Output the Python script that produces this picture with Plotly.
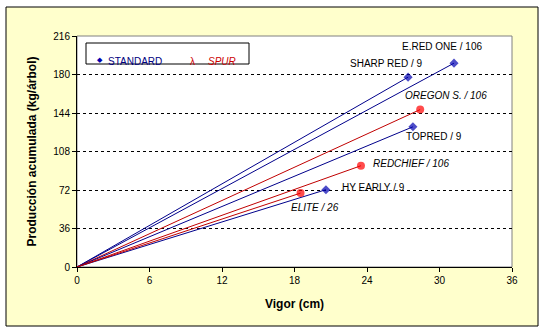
import plotly.graph_objects as go

# ---- data ----
varieties = ["E.RED ONE / 106", "SHARP RED / 9", "OREGON S. / 106", "TOPRED / 9",
             "REDCHIEF / 106", "HY EARLY / 9", "ELITE / 26"]
groups = ["STANDARD", "STANDARD", "SPUR", "STANDARD", "SPUR", "STANDARD", "SPUR"]
vigor = [31.2, 27.4, 28.4, 27.8, 23.5, 20.6, 18.5]
produccion = [190.6, 177.5, 147.2, 131.1, 94.7, 72.3, 69.1]
x_ticks = [0, 6, 12, 18, 24, 30, 36]
y_ticks = [0, 36, 72, 108, 144, 180, 216]

# ---- styles / label offsets (pixels) ----
label_shift = [(-12, 17), (-22, 14), (26, 14), (21, -10), (50, 2), (48, 2), (14, -14)]
style = {
    "STANDARD": dict(line="#00008B", marker="#0000B0", symbol="diamond", size=7, italic=False),
    "SPUR": dict(line="#C00000", marker="#FF0000", symbol="circle", size=8, italic=True),
}

W, H = 546, 334
ML, MR, MT, MB = 77, 34, 36, 67
PW, PH = W - ML - MR, H - MT - MB


def px(xp):
    return (xp - ML) / PW


def py(yp):
    return (H - MB - yp) / PH


FONT = "Arial, Liberation Sans, sans-serif"

fig = go.Figure()
for name, g, xv, yv in zip(varieties, groups, vigor, produccion):
    st = style[g]
    fig.add_trace(go.Scatter(
        x=[0, xv], y=[0, yv], mode="lines+markers", name=name, showlegend=False,
        line=dict(color=st["line"], width=1),
        marker=dict(color=st["marker"], symbol=st["symbol"], size=[0, st["size"]],
                    line=dict(width=0)),
        hoverinfo="skip",
    ))

annotations = []
for name, g, xv, yv, (dx, dy) in zip(varieties, groups, vigor, produccion, label_shift):
    txt = f"<i>{name}</i>" if style[g]["italic"] else name
    annotations.append(dict(x=xv, y=yv, xref="x", yref="y", text=txt, showarrow=False,
                            xshift=dx, yshift=dy, font=dict(family=FONT, size=10, color="black")))

# legend (custom)
annotations += [
    dict(x=px(95), y=py(54), xref="paper", yref="paper", text="◆", showarrow=False,
         font=dict(family="DejaVu Sans", size=7, color="#0000B0")),
    dict(x=px(106), y=py(54), xref="paper", yref="paper", text="STANDARD", showarrow=False,
         xanchor="left", font=dict(family=FONT, size=10, color="#000080")),
    dict(x=px(188), y=py(54), xref="paper", yref="paper", text="λ", showarrow=False,
         font=dict(family=FONT, size=10, color="#CC0000")),
    dict(x=px(206), y=py(54), xref="paper", yref="paper", text="<i>SPUR</i>", showarrow=False,
         xanchor="left", font=dict(family=FONT, size=10, color="#CC0000")),
]

shapes = [
    dict(type="rect", xref="paper", yref="paper", x0=px(6), x1=px(538), y0=py(326), y1=py(7),
         fillcolor="#FFFFCC", line=dict(color="black", width=1), layer="below"),
    dict(type="rect", xref="paper", yref="paper", x0=0, x1=1, y0=0, y1=1,
         fillcolor="white", line=dict(color="#808080", width=1), layer="below"),
    dict(type="rect", xref="paper", yref="paper", x0=px(86), x1=px(249), y0=py(64), y1=py(43),
         fillcolor="white", line=dict(color="black", width=1), layer="below"),
]

fig.update_layout(
    width=W, height=H, margin=dict(l=ML, r=MR, t=MT, b=MB),
    paper_bgcolor="white", plot_bgcolor="white",
    font=dict(family=FONT, size=10, color="black"),
    shapes=shapes, annotations=annotations, showlegend=False,
)
fig.update_xaxes(
    range=[0, 36], tickvals=x_ticks, ticktext=[str(v) for v in x_ticks],
    showgrid=False, zeroline=False, showline=True, linecolor="black", linewidth=1,
    ticks="outside", ticklen=4, tickcolor="black", tickfont=dict(size=10),
    title=dict(text="<b>Vigor (cm)</b>", font=dict(size=12), standoff=14),
)
fig.update_yaxes(
    range=[0, 216], tickvals=y_ticks, ticktext=[str(v) for v in y_ticks],
    showgrid=True, gridcolor="black", griddash="3px,3px", gridwidth=1,
    zeroline=False, showline=True, linecolor="black", linewidth=1,
    ticks="outside", ticklen=4, tickcolor="black", tickfont=dict(size=10),
    title=dict(text="<b>Producción acumulada (kg/árbol)</b>", font=dict(size=12), standoff=14),
)

fig.write_html("out.html")
